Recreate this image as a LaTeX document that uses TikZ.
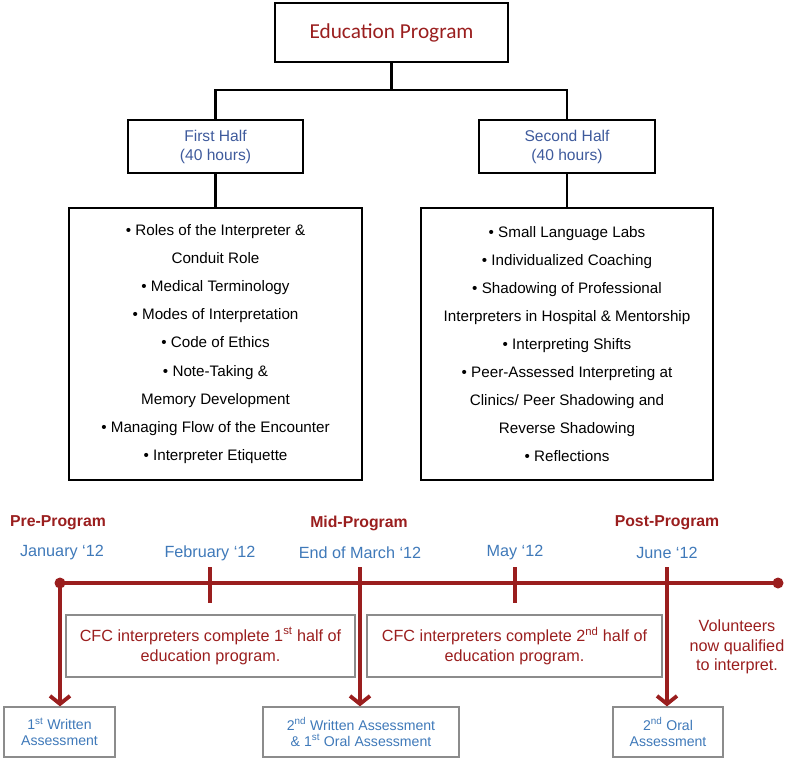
\documentclass[tikz,border=0pt]{standalone}
\usepackage{fontspec}
\setmainfont{Liberation Sans}
\newfontfamily\calib{Carlito}
\usetikzlibrary{arrows.meta}
\definecolor{dred}{HTML}{9A1E1E}
\definecolor{tblue}{HTML}{3F79B9}
\definecolor{hblue}{HTML}{3E5A9C}
\definecolor{gbox}{HTML}{8C8C8C}
\begin{document}
\begin{tikzpicture}[x=1pt,y=-1pt,
  treebox/.style={draw=black, line width=2.4pt, inner sep=0pt, align=center},
  tline/.style={black, line width=2.4pt},
  listtext/.style={font=\fontsize{15.2}{28.1}\selectfont},
  halftext/.style={text=hblue, font=\fontsize{15.6}{19}\selectfont},
  phase/.style={text=dred, font=\fontsize{15.8}{17}\selectfont\bfseries},
  month/.style={text=tblue, font=\fontsize{16.2}{17}\selectfont},
  tlbox/.style={draw=gbox, line width=1.3pt, inner sep=0pt, align=center, text=dred, font=\fontsize{16.2}{20}\selectfont},
  asbox/.style={draw=gbox, line width=1.3pt, inner sep=0pt, align=center, text=tblue, font=\fontsize{14.1}{16}\selectfont},
  rline/.style={dred, line width=3.8pt},
  rarrow/.style={dred, line width=3.8pt, -{Straight Barb[length=8pt,width=20pt,line width=3.8pt]}}
]
\useasboundingbox (0,0) rectangle (799,763);

% ---- tree ----
\node[treebox, minimum width=233pt, minimum height=59pt, text=dred, font=\calib\fontsize{21.3}{24}\selectfont] (edu) at (391.5,32.5) {Education Program};
\node[treebox, minimum width=175pt, minimum height=53pt, halftext] (first) at (215.5,146.5) {First Half\\(40 hours)};
\node[treebox, minimum width=176pt, minimum height=53pt, halftext] (second) at (567,146.5) {Second Half\\(40 hours)};
\node[treebox, minimum width=293pt, minimum height=272pt, listtext] (list1) at (215.5,344) {%
• Roles of the Interpreter \&\\Conduit Role\\• Medical Terminology\\• Modes of Interpretation\\• Code of Ethics\\• Note-Taking \&\\Memory Development\\• Managing Flow of the Encounter\\• Interpreter Etiquette};
\node[treebox, minimum width=292pt, minimum height=272pt, listtext] (list2) at (567,344) {%
• Small Language Labs\\• Individualized Coaching\\• Shadowing of Professional\\Interpreters in Hospital \& Mentorship\\• Interpreting Shifts\\• Peer-Assessed Interpreting at\\Clinics/ Peer Shadowing and\\Reverse Shadowing\\• Reflections};

\coordinate (split) at (391.5,90);
\draw[tline] (edu.south) -- (split);
\draw[tline] (split) -| (first.north);
\draw[tline] (split) -| (second.north);
\draw[tline] (first.south) -- (list1.north);
\draw[tline] (second.south) -- (list2.north);

% ---- timeline labels ----
\node[phase] (pre) at (58,523) {Pre-Program};
\node[phase] (mid) at (359,523) {Mid-Program};
\node[phase] (post) at (667,523) {Post-Program};
\node[month] (jan) at (62,553) {January ‘12};
\node[month] (feb) at (210,553) {February ‘12};
\node[month] (mar) at (360,553) {End of March ‘12};
\node[month] (may) at (515,553) {May ‘12};
\node[month] (jun) at (667,553) {June ‘12};

% ---- boxes ----
\node[tlbox, minimum width=289pt, minimum height=62pt] (cfc1) at (210.5,646) {CFC interpreters complete 1\textsuperscript{st} half of\\education program.};
\node[tlbox, minimum width=295pt, minimum height=62pt] (cfc2) at (514.5,646) {CFC interpreters complete 2\textsuperscript{nd} half of\\education program.};
\node[align=center, text=dred, font=\fontsize{16.2}{19.5}\selectfont] (vol) at (737,647) {Volunteers\\now qualified\\to interpret.};
\node[asbox, minimum width=111pt, minimum height=50pt] (b1) at (59.5,732) {1\textsuperscript{st} Written\\Assessment};
\node[asbox, minimum width=196pt, minimum height=50pt] (b2) at (361,732) {2\textsuperscript{nd} Written Assessment\\\& 1\textsuperscript{st} Oral Assessment};
\node[asbox, minimum width=110pt, minimum height=50pt] (b3) at (668,732) {2\textsuperscript{nd} Oral\\Assessment};

% ---- timeline ----
\coordinate (tstart) at (60,583);
\coordinate (tend) at (778,583);
\draw[rline] (tstart) -- (tend);
\fill[dred] (tstart) circle (5.5pt);
\fill[dred] (tend) circle (5.5pt);
\coordinate (tfebT) at (210,567); \coordinate (tfebB) at (210,603);
\coordinate (tmayT) at (515,567); \coordinate (tmayB) at (515,603);
\draw[rline] (tfebT) -- (tfebB);
\draw[rline] (tmayT) -- (tmayB);
\coordinate (tmar) at (360,567);
\coordinate (tjun) at (667,567);
\draw[rarrow] (tstart) -- (b1.north -| tstart);
\draw[rarrow] (tmar) -- (b2.north -| tmar);
\draw[rarrow] (tjun) -- (b3.north -| tjun);
\end{tikzpicture}
\end{document}
